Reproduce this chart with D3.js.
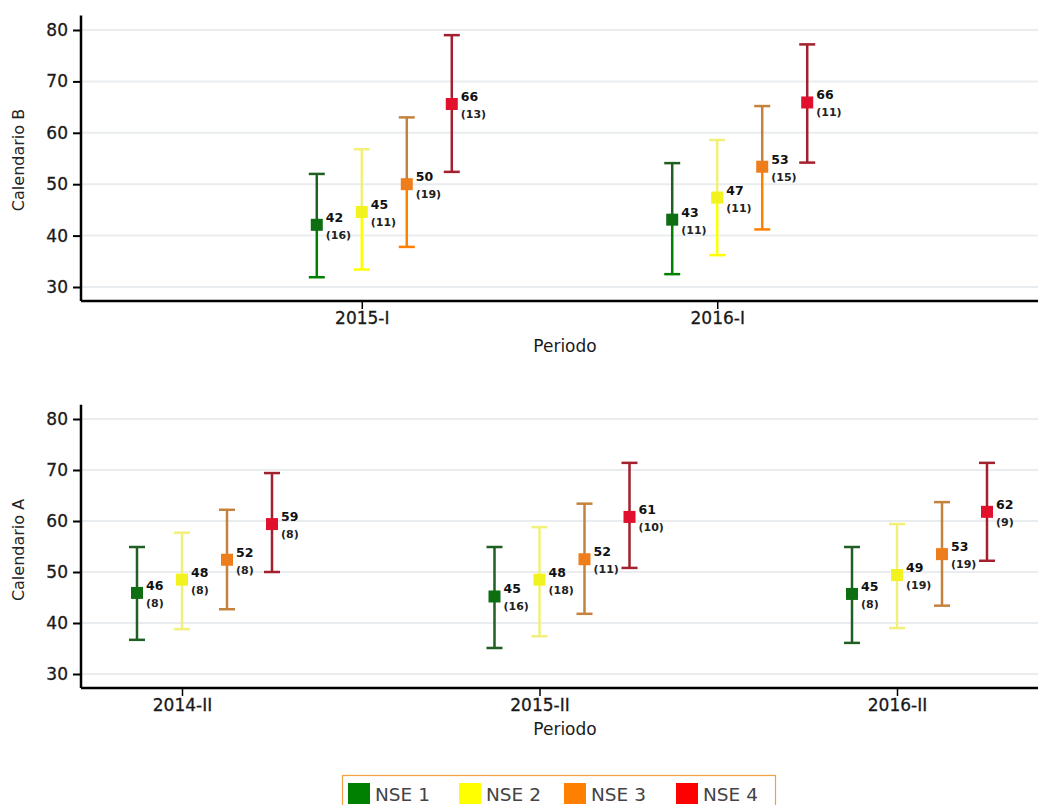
<!DOCTYPE html>
<html><head><meta charset="utf-8">
<script src="https://cdn.jsdelivr.net/npm/d3@7"></script>
<style>
body{margin:0;background:#fff;}
svg{display:block;font-family:"DejaVu Sans",sans-serif;}
</style></head>
<body><svg id="c" width="1038" height="805"></svg>
<script>
// ---- data ----
const series = ["NSE 1","NSE 2","NSE 3","NSE 4"];
const seriesColors = ["#008000","#ffff00","#ff8000","#ff0000"];
const markerColors = ["#0d6e12","#f2f21e","#ee7d1c","#e1102c"];
const barDark = ["#1f5f22","#f0f07a","#c5823c","#a3202e"];

// Calendario B
const periodsB = ["2015-I","2016-I"];
const meanB = [[42.1,43.1],[44.6,47.4],[50.0,53.4],[65.6,65.9]];
const lowB  = [[31.9,32.5],[33.4,36.2],[37.8,41.2],[52.4,54.2]];
const highB = [[52.0,54.1],[56.8,58.6],[63.0,65.2],[79.0,77.2]];
const nB    = [["(16)","(11)"],["(11)","(11)"],["(19)","(15)"],["(13)","(11)"]];
const labB  = [["42","43"],["45","47"],["50","53"],["66","66"]];

// Calendario A
const periodsA = ["2014-II","2015-II","2016-II"];
const meanA = [[45.9,45.2,45.7],[48.5,48.5,49.4],[52.4,52.5,53.5],[59.4,60.8,61.8]];
const lowA  = [[36.7,35.1,36.1],[38.8,37.4,39.0],[42.7,41.8,43.4],[50.0,50.8,52.2]];
const highA = [[54.9,54.9,54.9],[57.7,58.8,59.4],[62.2,63.4,63.7],[69.4,71.4,71.4]];
const nA    = [["(8)","(16)","(8)"],["(8)","(18)","(19)"],["(8)","(11)","(19)"],["(8)","(10)","(9)"]];
const labA  = [["46","45","45"],["48","48","49"],["52","52","53"],["59","61","62"]];

const yTicks = [30,40,50,60,70,80];

const svg = d3.select("#c");

function panel(opt){
  const g = svg.append("g");
  const x = d3.scalePoint().domain(opt.periods).range([81,998]).padding(opt.pad);
  const y = d3.scaleLinear().domain([30,80]).range([opt.y30,opt.y80]);
  const dodge = d3.scaleBand().domain(series).range([-67.5,112.5]);
  const x0 = 81, x1 = 1038;
  const top = y(82.8), bot = opt.axisY;

  // gridlines
  g.selectAll("line.grid").data(yTicks).join("line")
    .attr("x1",x0).attr("x2",x1).attr("y1",d=>y(d)).attr("y2",d=>y(d))
    .attr("stroke","#e9edf0").attr("stroke-width",2);

  // y axis
  const ya = g.append("g").attr("transform",`translate(${x0},0)`)
    .call(d3.axisLeft(y).tickValues(yTicks).tickSize(8).tickPadding(5).tickSizeOuter(0));
  ya.select(".domain").remove();
  ya.selectAll(".tick line").attr("stroke","#000").attr("stroke-width",2);
  ya.selectAll(".tick text").attr("font-size",17).attr("fill","#1a1a1a")
    .attr("font-family","DejaVu Sans, sans-serif").attr("stroke","#1a1a1a").attr("stroke-width",0.3);
  g.append("line").attr("x1",x0).attr("x2",x0).attr("y1",top).attr("y2",bot)
    .attr("stroke","#000").attr("stroke-width",2.5);

  // x axis
  const xa = g.append("g").attr("transform",`translate(0,${bot})`)
    .call(d3.axisBottom(x).tickSize(8).tickPadding(3).tickSizeOuter(0));
  xa.select(".domain").remove();
  xa.selectAll(".tick line").attr("stroke","#000").attr("stroke-width",1.5);
  xa.selectAll(".tick text").attr("font-size",17).attr("fill","#1a1a1a")
    .attr("font-family","DejaVu Sans, sans-serif").attr("stroke","#1a1a1a").attr("stroke-width",0.3);
  g.append("line").attr("x1",x0).attr("x2",x1).attr("y1",bot).attr("y2",bot)
    .attr("stroke","#000").attr("stroke-width",2.5);

  // titles
  g.append("text").attr("transform",`translate(24,${opt.titleY}) rotate(-90)`)
    .attr("text-anchor","middle").attr("font-size",16).attr("fill","#222").text(opt.ytitle);
  g.append("text").attr("x",565).attr("y",opt.xtitleY).attr("text-anchor","middle")
    .attr("font-size",17).attr("fill","#1a1a1a").text("Periodo");

  // error bars + markers
  series.forEach((s,si)=>{
    opt.periods.forEach((p,pi)=>{
      const cx = x(p)+dodge(s)+dodge.bandwidth()/2;
      const m = opt.mean[si][pi], lo = opt.low[si][pi], hi = opt.high[si][pi];
      const upCol = barDark[si];
      const loCol = opt.twoTone && si<3 ? seriesColors[si] : barDark[si];
      g.append("line").attr("x1",cx).attr("x2",cx).attr("y1",y(hi)).attr("y2",y(m))
        .attr("stroke",upCol).attr("stroke-width",2.5);
      g.append("line").attr("x1",cx).attr("x2",cx).attr("y1",y(m)).attr("y2",y(lo))
        .attr("stroke",loCol).attr("stroke-width",2.5);
      g.append("line").attr("x1",cx-8).attr("x2",cx+8).attr("y1",y(hi)).attr("y2",y(hi))
        .attr("stroke",upCol).attr("stroke-width",2.5);
      g.append("line").attr("x1",cx-8).attr("x2",cx+8).attr("y1",y(lo)).attr("y2",y(lo))
        .attr("stroke",loCol).attr("stroke-width",2.5);
      g.append("rect").attr("x",cx-6).attr("y",y(m)-6).attr("width",12).attr("height",12)
        .attr("fill",markerColors[si]);
      g.append("text").attr("x",cx+9).attr("y",y(m)-3).attr("font-size",12.5)
        .attr("font-weight","bold").attr("fill","#111").text(opt.lab[si][pi]);
      g.append("text").attr("x",cx+9).attr("y",y(m)+14).attr("font-size",11)
        .attr("font-weight","bold").attr("fill","#222").text(opt.n[si][pi]);
    });
  });
}

panel({periods:periodsB, pad:0.79, y30:287, y80:30, axisY:301, ytitle:"Calendario B",
  titleY:160, xtitleY:352, mean:meanB, low:lowB, high:highB, n:nB, lab:labB, twoTone:true});
panel({periods:periodsA, pad:0.2825, y30:674, y80:419, axisY:688, ytitle:"Calendario A",
  titleY:550, xtitleY:735, mean:meanA, low:lowA, high:highA, n:nA, lab:labA, twoTone:false});

// legend
const lg = svg.append("g");
lg.append("rect").attr("x",342.5).attr("y",775.5).attr("width",433).attr("height",40)
  .attr("fill","none").attr("stroke","#f4a040").attr("stroke-width",1.2);
const legX = [348,459,564,676];
series.forEach((s,i)=>{
  lg.append("rect").attr("x",legX[i]).attr("y",783).attr("width",22).attr("height",21)
    .attr("fill",seriesColors[i]);
  lg.append("text").attr("x",legX[i]+27).attr("y",801).attr("font-size",18.5)
    .attr("fill","#444").text(s);
});
</script></body></html>
